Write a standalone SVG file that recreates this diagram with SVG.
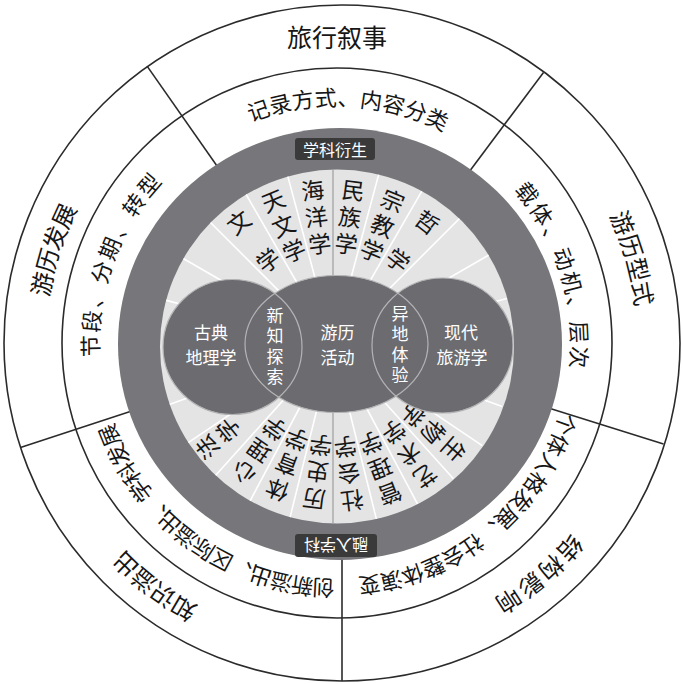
<svg xmlns="http://www.w3.org/2000/svg" width="683" height="684" viewBox="0 0 683 684">
<defs>
<style>
text{font-family:'Noto Sans CJK SC','Noto Sans',sans-serif;text-anchor:middle;dominant-baseline:central;fill:#161616}
.ring{fill:none;stroke:#2b2b2b;stroke-width:1.6}
.div{stroke:#2b2b2b;stroke-width:1.6}
.to{font-size:24px}
.tm{font-size:22px}
.td{font-size:23px}
.col{font-size:23px;writing-mode:vertical-rl;text-anchor:start;letter-spacing:4px}
.tc{font-size:17px;fill:#ffffff}
.vc{font-size:17px;fill:#ffffff;writing-mode:vertical-rl;text-anchor:start;letter-spacing:3.5px}
.tl{font-size:16px;fill:#ffffff}
.rl{stroke:#ffffff;stroke-width:1.6}
.circ{fill:#6c6c70}
.circo{fill:none;stroke:#b4b4b6;stroke-width:1.2}
</style>
<clipPath id="disc"><circle cx="337" cy="346.5" r="177"/></clipPath>
</defs>
<rect width="683" height="684" fill="#ffffff"/>

<g id="connectors">
<line class="div" x1="226.3" y1="179.2" x2="147.1" y2="66.1"/>
<line class="div" x1="460.8" y1="182.9" x2="543.5" y2="72.4"/>
<line class="div" x1="531.8" y1="402.8" x2="663.5" y2="444.1"/>
<line class="div" x1="342" y1="543" x2="342" y2="681"/>
<line class="div" x1="150.8" y1="404.8" x2="20.5" y2="447.4"/>
</g>

<g id="rings">
<circle class="ring" cx="342" cy="343" r="338"/>
<circle class="ring" cx="337" cy="343" r="275"/>
<ellipse id="dark-ring" cx="340" cy="344" rx="222" ry="216" fill="#77777b"/>
<circle id="light-disc" cx="337" cy="346.5" r="177" fill="#e4e4e5"/>
</g>

<g id="sector-lines" clip-path="url(#disc)">
<g transform="translate(333 345)">
<line class="rl" x1="0" y1="0" x2="0" y2="-180" transform="rotate(-15)"/>
<line class="rl" x1="0" y1="0" x2="0" y2="-180" transform="rotate(15)"/>
<line class="rl" x1="0" y1="0" x2="0" y2="-180" transform="rotate(-30)"/>
<line class="rl" x1="0" y1="0" x2="0" y2="-180" transform="rotate(30)"/>
<line class="rl" x1="0" y1="0" x2="0" y2="-180" transform="rotate(-45)"/>
<line class="rl" x1="0" y1="0" x2="0" y2="-180" transform="rotate(45)"/>
<line class="rl" x1="0" y1="0" x2="0" y2="-180" transform="rotate(-60)"/>
<line class="rl" x1="0" y1="0" x2="0" y2="-180" transform="rotate(60)"/>
<line class="rl" x1="0" y1="0" x2="0" y2="-180" transform="rotate(-75)"/>
<line class="rl" x1="0" y1="0" x2="0" y2="-180" transform="rotate(75)"/>
<line class="rl" x1="0" y1="0" x2="0" y2="-180" transform="rotate(166)"/>
<line class="rl" x1="0" y1="0" x2="0" y2="-180" transform="rotate(194)"/>
<line class="rl" x1="0" y1="0" x2="0" y2="-180" transform="rotate(152)"/>
<line class="rl" x1="0" y1="0" x2="0" y2="-180" transform="rotate(208)"/>
<line class="rl" x1="0" y1="0" x2="0" y2="-180" transform="rotate(138)"/>
<line class="rl" x1="0" y1="0" x2="0" y2="-180" transform="rotate(222)"/>
<line class="rl" x1="0" y1="0" x2="0" y2="-180" transform="rotate(124)"/>
<line class="rl" x1="0" y1="0" x2="0" y2="-180" transform="rotate(236)"/>
<line class="rl" x1="0" y1="0" x2="0" y2="-180" transform="rotate(110)"/>
<line class="rl" x1="0" y1="0" x2="0" y2="-180" transform="rotate(250)"/>
<line x1="0" y1="-180" x2="0" y2="180" stroke="#a2a2a4" stroke-width="1.3"/>
</g>
</g>

<g id="disciplines-top" transform="translate(333 345)">
<text class="td" transform="rotate(-37.5) translate(0 -156)">文</text>
<text class="td" transform="rotate(-37.5) translate(0 -108)">学</text>
<text class="col" x="0" y="-167.5" transform="rotate(-22.5)">天文学</text>
<text class="col" x="0" y="-167.5" transform="rotate(-7.5)">海洋学</text>
<text class="col" x="0" y="-167.5" transform="rotate(7.5)">民族学</text>
<text class="col" x="0" y="-167.5" transform="rotate(22.5)">宗教学</text>
<text class="td" transform="rotate(37.5) translate(0 -156)">哲</text>
<text class="td" transform="rotate(37.5) translate(0 -108)">学</text>
</g>

<g id="disciplines-bottom" transform="translate(333 345)">
<text class="col" x="0" y="-171.5" transform="rotate(131)">生物学</text>
<text class="col" x="0" y="-171.5" transform="rotate(145)">艺术学</text>
<text class="col" x="0" y="-170.5" transform="rotate(159)">管理学</text>
<text class="col" x="0" y="-168" transform="rotate(173)">社会学</text>
<text class="col" x="0" y="-166.5" transform="rotate(187)">历史学</text>
<text class="col" x="0" y="-166.5" transform="rotate(201)">体育学</text>
<text class="col" x="0" y="-167.5" transform="rotate(215)">心理学</text>
<text class="col" x="0" y="-173.5" transform="rotate(231)">法学</text>
</g>

<g id="circle-left">
<ellipse class="circ" cx="232.5" cy="347" rx="69.5" ry="67.5"/>
</g>
<g id="circle-middle">
<ellipse class="circ" cx="336.5" cy="344" rx="91.5" ry="68.5"/>
</g>
<g id="circle-right">
<ellipse class="circ" cx="442.5" cy="345.5" rx="70.5" ry="67.5"/>
</g>
<g id="circle-outlines">
<ellipse class="circo" cx="232.5" cy="347" rx="69.5" ry="67.5"/>
<ellipse class="circo" cx="336.5" cy="344" rx="91.5" ry="68.5"/>
<ellipse class="circo" cx="442.5" cy="345.5" rx="70.5" ry="67.5"/>
</g>
<g id="circle-labels">
<text class="tc" x="211" y="331.5">古典</text>
<text class="tc" x="211" y="356.5">地理学</text>
<text class="vc" x="275" y="307">新知探索</text>
<text class="tc" x="337.5" y="331.5">游历</text>
<text class="tc" x="337.5" y="356.5">活动</text>
<text class="vc" x="400" y="305">异地体验</text>
<text class="tc" x="461" y="331.5">现代</text>
<text class="tc" x="462" y="356.5">旅游学</text>
</g>

<g id="label-derive">
<rect x="295" y="138" width="80" height="22" rx="3" fill="#3a3a3b"/>
<text class="tl" x="335" y="149">学科衍生</text>
</g>
<g id="label-merge">
<rect x="295" y="534" width="82" height="23" rx="3" fill="#3a3a3b"/>
<text class="tl" transform="translate(336 545.5) rotate(180)">融入学科</text>
</g>

<g id="outer-ring-labels" transform="translate(341 342)">
<text class="to" x="-4" y="-306" style="font-size:25px">旅行叙事</text>
<text class="to" transform="rotate(67.1) translate(0 -307)">游</text>
<text class="to" transform="rotate(71.7) translate(0 -307)">历</text>
<text class="to" transform="rotate(76.3) translate(0 -307)">型</text>
<text class="to" transform="rotate(80.9) translate(0 -307)">式</text>
<text class="to" transform="rotate(132) translate(0 -310)">结</text>
<text class="to" transform="rotate(137) translate(0 -310)">构</text>
<text class="to" transform="rotate(142) translate(0 -310)">影</text>
<text class="to" transform="rotate(147) translate(0 -310)">响</text>
<text class="to" transform="rotate(210.6) translate(0 -311)">知</text>
<text class="to" transform="rotate(215.1) translate(0 -311)">识</text>
<text class="to" transform="rotate(219.6) translate(0 -311)">溢</text>
<text class="to" transform="rotate(224.1) translate(0 -311)">出</text>
<text class="to" transform="rotate(-79) translate(0 -306)">游</text>
<text class="to" transform="rotate(-74.5) translate(0 -306)">历</text>
<text class="to" transform="rotate(-70) translate(0 -306)">发</text>
<text class="to" transform="rotate(-65.5) translate(0 -306)">展</text>
</g>

<g id="middle-ring-labels" transform="translate(336 344)">
<text class="tm" transform="rotate(-18.4) translate(0 -248)">记</text>
<text class="tm" transform="rotate(-13.07) translate(0 -248)">录</text>
<text class="tm" transform="rotate(-7.74) translate(0 -248)">方</text>
<text class="tm" transform="rotate(-2.41) translate(0 -248)">式</text>
<text class="tm" transform="rotate(2.92) translate(0 -248)">、</text>
<text class="tm" transform="rotate(8.25) translate(0 -248)">内</text>
<text class="tm" transform="rotate(13.58) translate(0 -248)">容</text>
<text class="tm" transform="rotate(18.91) translate(0 -248)">分</text>
<text class="tm" transform="rotate(24.24) translate(0 -248)">类</text>

<text class="tm" transform="rotate(51.8) translate(0 -245)">载</text>
<text class="tm" transform="rotate(57.7) translate(0 -245)">体</text>
<text class="tm" transform="rotate(63.6) translate(0 -245)">、</text>
<text class="tm" transform="rotate(69.5) translate(0 -245)">动</text>
<text class="tm" transform="rotate(75.4) translate(0 -245)">机</text>
<text class="tm" transform="rotate(81.3) translate(0 -245)">、</text>
<text class="tm" transform="rotate(87.2) translate(0 -245)">层</text>
<text class="tm" transform="rotate(93.1) translate(0 -245)">次</text>

<text class="tm" transform="rotate(109.3) translate(0 -245)">个</text>
<text class="tm" transform="rotate(114.53) translate(0 -245)">体</text>
<text class="tm" transform="rotate(119.76) translate(0 -245)">人</text>
<text class="tm" transform="rotate(124.99) translate(0 -245)">格</text>
<text class="tm" transform="rotate(130.22) translate(0 -245)">发</text>
<text class="tm" transform="rotate(135.45) translate(0 -245)">展</text>
<text class="tm" transform="rotate(140.68) translate(0 -245)">、</text>
<text class="tm" transform="rotate(145.91) translate(0 -245)">社</text>
<text class="tm" transform="rotate(151.14) translate(0 -245)">会</text>
<text class="tm" transform="rotate(156.37) translate(0 -245)">整</text>
<text class="tm" transform="rotate(161.6) translate(0 -245)">体</text>
<text class="tm" transform="rotate(166.83) translate(0 -245)">演</text>
<text class="tm" transform="rotate(172.06) translate(0 -245)">变</text>

<text class="tm" transform="rotate(183) translate(0 -246)">创</text>
<text class="tm" transform="rotate(188) translate(0 -246)">新</text>
<text class="tm" transform="rotate(193) translate(0 -246)">溢</text>
<text class="tm" transform="rotate(198) translate(0 -246)">出</text>
<text class="tm" transform="rotate(203) translate(0 -246)">、</text>
<text class="tm" transform="rotate(208) translate(0 -246)">区</text>
<text class="tm" transform="rotate(213) translate(0 -246)">际</text>
<text class="tm" transform="rotate(218) translate(0 -246)">溢</text>
<text class="tm" transform="rotate(223) translate(0 -246)">出</text>
<text class="tm" transform="rotate(228) translate(0 -246)">、</text>
<text class="tm" transform="rotate(233) translate(0 -246)">学</text>
<text class="tm" transform="rotate(238) translate(0 -246)">科</text>
<text class="tm" transform="rotate(243) translate(0 -246)">发</text>
<text class="tm" transform="rotate(248) translate(0 -246)">展</text>

<text class="tm" transform="rotate(-90.5) translate(0 -247)">节</text>
<text class="tm" transform="rotate(-84.66) translate(0 -247)">段</text>
<text class="tm" transform="rotate(-78.82) translate(0 -247)">、</text>
<text class="tm" transform="rotate(-72.98) translate(0 -247)">分</text>
<text class="tm" transform="rotate(-67.14) translate(0 -247)">期</text>
<text class="tm" transform="rotate(-61.3) translate(0 -247)">、</text>
<text class="tm" transform="rotate(-55.46) translate(0 -247)">转</text>
<text class="tm" transform="rotate(-49.62) translate(0 -247)">型</text>
</g>
</svg>
